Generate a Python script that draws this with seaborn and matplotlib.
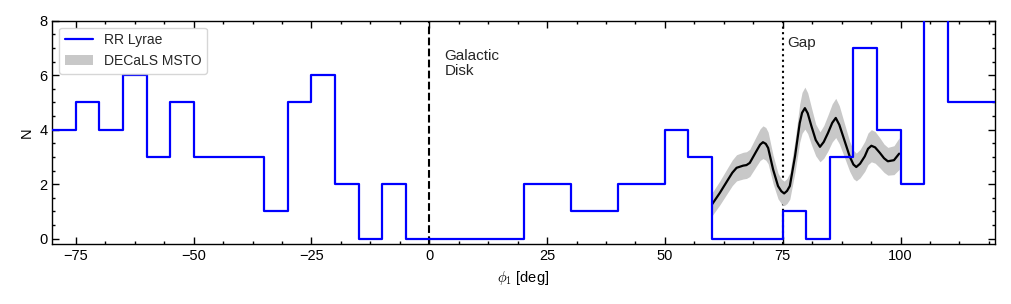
import numpy as np
import pandas as pd
import matplotlib
matplotlib.use("Agg")
import matplotlib.pyplot as plt
import seaborn as sns
from matplotlib.lines import Line2D
from matplotlib.patches import Patch
from matplotlib.ticker import MultipleLocator, AutoMinorLocator

# RR Lyrae counts in 5 deg bins from phi1 = -80 to 120
rrl_counts = [4, 5, 4, 6, 3, 5, 3, 3, 3, 1,
              5, 6, 2, 0, 2, 0, 0, 0, 0, 0,
              2, 2, 1, 1, 2, 2, 4, 3, 0, 0,
              0, 1, 0, 3, 7, 4, 2, 9, 5, 5]

# DECaLS MSTO smoothed density
msto_phi1 = [60.0, 61.65, 63.4, 64.3, 65.2, 66.6, 67.3, 68.0, 69.4, 70.2,
             70.8, 71.4, 71.9, 72.95, 74.0, 74.7, 75.3, 75.9, 76.5, 77.6,
             78.6, 79.1, 79.7, 80.3, 81.1, 82.0, 82.9, 83.7, 84.6, 85.5,
             86.25, 87.0, 87.8, 89.2, 90.0, 90.6, 91.4, 92.4, 93.1, 93.8,
             94.6, 95.6, 96.5, 97.3, 98.6, 99.7]
msto_n = [1.26, 1.68, 2.17, 2.42, 2.60, 2.68, 2.70, 2.78, 3.21, 3.45,
          3.54, 3.48, 3.33, 2.54, 1.93, 1.74, 1.66, 1.75, 1.93, 3.02,
          4.24, 4.62, 4.79, 4.60, 4.12, 3.62, 3.37, 3.55, 3.88, 4.25,
          4.43, 4.18, 3.76, 3.02, 2.72, 2.63, 2.75, 3.02, 3.30, 3.41,
          3.35, 3.15, 2.95, 2.84, 2.88, 3.12]
msto_err = [0.42, 0.44, 0.46, 0.47, 0.48, 0.49, 0.49, 0.50, 0.55, 0.58,
            0.60, 0.60, 0.58, 0.52, 0.47, 0.45, 0.45, 0.46, 0.48, 0.58,
            0.70, 0.75, 0.77, 0.75, 0.68, 0.58, 0.55, 0.60, 0.66, 0.70,
            0.72, 0.70, 0.64, 0.55, 0.52, 0.51, 0.52, 0.55, 0.58, 0.59,
            0.58, 0.55, 0.52, 0.51, 0.53, 0.58]

BIN_W = 5
BIN_RANGE = (-80, 120)

sns.set_style("ticks")
plt.rcParams['font.family'] = ['Liberation Sans', 'DejaVu Sans']
plt.rcParams['mathtext.fontset'] = 'cm'
plt.rcParams['font.size'] = 10


def main():
    fig = plt.figure(figsize=(10.11, 3.04), dpi=100)
    ax = fig.add_axes([0.0517, 0.197, 0.9323, 0.735])

    ax.axvline(0, color='black', ls='--', lw=1.5, zorder=1)
    ax.axvline(75, color='black', ls=':', lw=1.5, zorder=1)

    # MSTO band + smoothed line
    lo = np.array(msto_n) - np.array(msto_err)
    hi = np.array(msto_n) + np.array(msto_err)
    ax.fill_between(msto_phi1, lo, hi, color='#c8c8c8', lw=0, zorder=2)
    sns.lineplot(x=msto_phi1, y=msto_n, color='black', lw=1.6, ax=ax, zorder=3)

    # RR Lyrae step histogram
    centers = np.arange(BIN_RANGE[0], BIN_RANGE[1], BIN_W) + BIN_W / 2
    rrl = pd.DataFrame({'phi1': centers, 'n': rrl_counts})
    sns.histplot(data=rrl, x='phi1', weights='n', binwidth=BIN_W, binrange=BIN_RANGE,
                 element='step', fill=False, color='blue', lw=1.6, ax=ax, zorder=4)

    ax.text(3.2, 6.97, 'Galactic\nDisk', va='top', ha='left', fontsize=11,
            linespacing=1.1)
    ax.text(76.0, 7.45, 'Gap', va='top', ha='left', fontsize=11)

    ax.set_xlim(-80, 120)
    ax.set_ylim(-0.2, 8)
    ax.xaxis.set_major_locator(MultipleLocator(25))
    ax.xaxis.set_minor_locator(AutoMinorLocator(4))
    ax.yaxis.set_major_locator(MultipleLocator(2))
    ax.yaxis.set_minor_locator(MultipleLocator(0.5))
    ax.tick_params(which='both', direction='in', top=True, right=True,
                   labelsize=10.5, width=1, color='black', labelcolor='black')
    ax.tick_params(which='major', length=5)
    ax.tick_params(which='minor', length=2.5)
    for s in ax.spines.values():
        s.set_linewidth(1)
        s.set_color('black')

    ax.set_xlabel(r'$\phi_1$ [deg]', fontsize=10.5, color='black')
    ax.set_ylabel('N', fontsize=10.5, color='black')

    handles = [Line2D([], [], color='blue', lw=1.6),
               Patch(facecolor='#c8c8c8', edgecolor='none')]
    leg = ax.legend(handles, ['RR Lyrae', 'DECaLS MSTO'], loc='upper left',
                    fontsize=10, frameon=True, fancybox=True)
    leg.get_frame().set_edgecolor('#cccccc')

    fig.savefig('out.png', dpi=100)
    plt.close(fig)


if __name__ == '__main__':
    main()
